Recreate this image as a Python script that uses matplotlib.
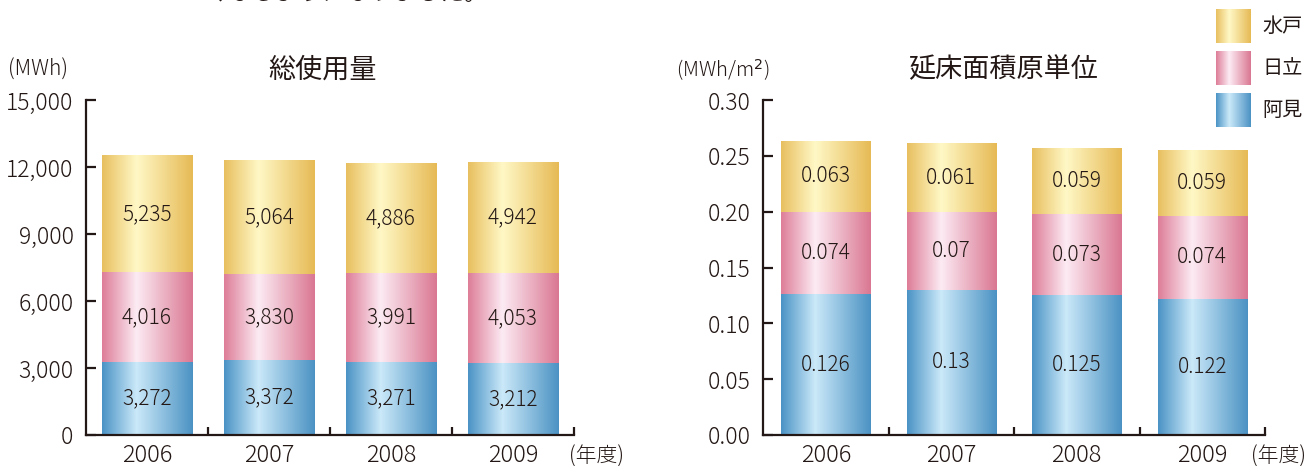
import numpy as np
import matplotlib
matplotlib.use("Agg")
import matplotlib.pyplot as plt
from matplotlib.colors import LinearSegmentedColormap

plt.rcParams['font.family'] = ['Noto Sans CJK JP', 'DejaVu Sans']

# data
years = ["2006", "2007", "2008", "2009"]
sites = ["阿見", "日立", "水戸"]

total_ami = [3272, 3372, 3271, 3212]
total_hitachi = [4016, 3830, 3991, 4053]
total_mito = [5235, 5064, 4886, 4942]

unit_ami = [0.126, 0.13, 0.125, 0.122]
unit_hitachi = [0.074, 0.07, 0.073, 0.074]
unit_mito = [0.063, 0.061, 0.059, 0.059]

total_ticks = [0, 3000, 6000, 9000, 12000, 15000]
unit_ticks = [0.0, 0.05, 0.10, 0.15, 0.20, 0.25, 0.30]

# gradient colours per site: edge, highlight, edge
shades = {
    "阿見": ["#4a93c5", "#cbe9f9", "#4b92c3"],
    "日立": ["#de7d98", "#fcebf3", "#da7792"],
    "水戸": ["#e8bf5f", "#fff8c6", "#e6ba55"],
}

ink = "#231815"


def make_cmap(name):
    c = shades[name]
    return LinearSegmentedColormap.from_list(name, [(0, c[0]), (0.38, c[1]), (1, c[2])])


grad = np.linspace(0, 1, 256).reshape(1, -1)


def gradient_bars(ax, x, heights, bottoms, name, width):
    bars = ax.bar(x, heights, width, bottom=bottoms, color="none", linewidth=0)
    cmap = make_cmap(name)
    for b in bars:
        x0, y0 = b.get_x(), b.get_y()
        ax.imshow(grad, cmap=cmap, aspect="auto", interpolation="bilinear",
                  extent=[x0, x0 + b.get_width(), y0, y0 + b.get_height()], zorder=2)
    return bars


def stacked(ax, series, fmt, width):
    x = np.arange(len(years))
    bottom = np.zeros(len(years))
    for name, vals in zip(sites, series):
        vals = np.array(vals, dtype=float)
        gradient_bars(ax, x, vals, bottom, name, width)
        for xi, b, v in zip(x, bottom, vals):
            ax.text(xi, b + v / 2, fmt(v), ha="center", va="center",
                    fontsize=15, color=ink, fontweight="light", zorder=3)
        bottom = bottom + vals


def style_axis(ax, ymax, ticks, ticklabels):
    ax.set_xlim(-0.5, len(years) - 0.5)
    ax.set_ylim(0, ymax)
    for s in ["top", "right"]:
        ax.spines[s].set_visible(False)
    for s in ["left", "bottom"]:
        ax.spines[s].set_color(ink)
        ax.spines[s].set_linewidth(1.6)
    ax.set_yticks(ticks)
    ax.set_yticklabels(ticklabels, fontsize=16.5, color=ink, fontweight="light")
    ax.tick_params(axis="y", direction="in", length=7, width=1.6, color=ink, pad=9)
    # category boundaries get the tick marks, centres get the labels
    ax.set_xticks(np.arange(len(years)) + 0.5)
    ax.set_xticklabels([])
    ax.tick_params(axis="x", which="major", direction="in", length=6, width=1.6, color=ink)
    ax.set_xticks(np.arange(len(years)), minor=True)
    ax.set_xticklabels(years, minor=True, fontsize=17, color=ink, fontweight="light")
    ax.tick_params(axis="x", which="minor", length=0, pad=6)


fig = plt.figure(figsize=(13.08, 4.66), dpi=100)

ax1 = fig.add_axes([86 / 1308, 31 / 466, 488 / 1308, 335 / 466])
ax2 = fig.add_axes([763 / 1308, 31 / 466, 502 / 1308, 335 / 466])

stacked(ax1, [total_ami, total_hitachi, total_mito], lambda v: f"{int(v):,}", 0.74)
style_axis(ax1, 15000, total_ticks, [f"{t:,}" for t in total_ticks])

stacked(ax2, [unit_ami, unit_hitachi, unit_mito], lambda v: f"{v:g}", 0.71)
style_axis(ax2, 0.30, unit_ticks, [f"{t:.2f}" for t in unit_ticks])

# titles and units
fig.text(323 / 1308, 1 - 70 / 466, "総使用量", ha="center", va="center", fontsize=19.5, color=ink)
fig.text(1003 / 1308, 1 - 70 / 466, "延床面積原単位", ha="center", va="center", fontsize=19.5, color=ink)
fig.text(8 / 1308, 1 - 70 / 466, "(MWh)", ha="left", va="center", fontsize=15, color=ink,
         fontweight="light")
fig.text(676 / 1308, 1 - 70 / 466, "(MWh/m$^2$)", ha="left", va="center", fontsize=14.5,
         color=ink, fontweight="light")
fig.text(569 / 1308, 1 - 457 / 466, "(年度)", ha="left", va="center", fontsize=15, color=ink,
         fontweight="light")
fig.text(1306 / 1308, 1 - 457 / 466, "(年度)", ha="right", va="center", fontsize=15, color=ink,
         fontweight="light")

# sentence running off the top edge
fig.text(205 / 1308, 1 + 6 / 466, "くなるようになりました。", ha="left", va="center",
         fontsize=17, color=ink)

# legend swatches
cells = [("水戸", 9), ("日立", 51), ("阿見", 93)]
for name, top in cells:
    lax = fig.add_axes([1216 / 1308, 1 - (top + 34) / 466, 35 / 1308, 34 / 466])
    lax.imshow(grad, cmap=make_cmap(name), aspect="auto", interpolation="bilinear")
    lax.axis("off")
    fig.text(1262 / 1308, 1 - (top + 17) / 466, name, ha="left", va="center",
             fontsize=14.5, color=ink)

fig.savefig("out.png", dpi=100)
